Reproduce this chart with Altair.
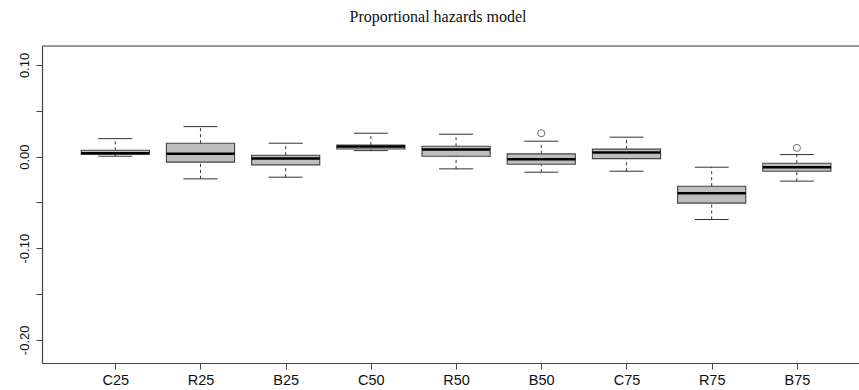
import json
import altair as alt
import pandas as pd

# Five-number summaries per scenario (proportional hazards estimates)
categories = ["C25", "R25", "B25", "C50", "R50", "B50", "C75", "R75", "B75"]
upper_whisker = [0.0196, 0.0327, 0.0146, 0.0255, 0.0244, 0.0168, 0.0212, -0.0116, 0.0022]
q3 = [0.0069, 0.0146, 0.0015, 0.0126, 0.0113, 0.0030, 0.0081, -0.0323, -0.0072]
median = [0.0036, 0.0030, -0.0022, 0.0110, 0.0076, -0.0029, 0.0044, -0.0400, -0.0116]
q1 = [0.0025, -0.0061, -0.0090, 0.0082, 0.0004, -0.0083, -0.0022, -0.0508, -0.0160]
lower_whisker = [0.0004, -0.0243, -0.0225, 0.0065, -0.0134, -0.0170, -0.0160, -0.0687, -0.0268]

outlier_cats = ["B50", "B75"]
outlier_vals = [0.0255, 0.0095]

y_ticks = [-0.20, -0.15, -0.10, -0.05, 0.00, 0.05, 0.10]
title_text = "Proportional hazards model"

boxes = pd.DataFrame({
    "cat": categories,
    "pos": list(range(1, len(categories) + 1)),
    "hi": upper_whisker,
    "q3": q3,
    "med": median,
    "q1": q1,
    "lo": lower_whisker,
})
outliers = pd.DataFrame({
    "cat": outlier_cats,
    "pos": [categories.index(c) + 1 for c in outlier_cats],
    "val": outlier_vals,
})

W, H = 817, 317
x_scale = alt.Scale(domain=[0.14, 0.14 + W / 85.2], nice=False, zero=False)
y_scale = alt.Scale(domain=[-0.2253, 0.1207], nice=False, zero=False)

label_list = json.dumps(categories)
x_axis = alt.Axis(
    values=list(range(1, len(categories) + 1)),
    labelExpr=f"{label_list}[round(datum.value) - 1]",
    title=None, grid=False, domain=True, domainColor="#444", domainWidth=1.2,
    ticks=True, tickColor="#444", tickSize=6, tickWidth=1,
    labelFont="Liberation Sans", labelFontSize=14.5, labelColor="#111",
    labelPadding=4, labelAngle=0,
)
y_axis = alt.Axis(
    values=y_ticks,
    labelExpr="abs(round(datum.value * 100)) % 10 == 0 ? "
              "(datum.value < -0.001 ? '-' : '') + format(abs(datum.value), '.2f') : ''",
    title=None, grid=False, domain=True, domainColor="#444", domainWidth=1.2,
    ticks=True, tickColor="#444", tickSize=6, tickWidth=1,
    labelFont="Liberation Sans", labelFontSize=13, labelColor="#111",
    labelAngle=-90, labelAlign="center", labelBaseline="alphabetic",
    labelPadding=8,
)

base = alt.Chart(boxes).transform_calculate(
    xl="datum.pos - 0.4", xr="datum.pos + 0.4",
    sl="datum.pos - 0.2", sr="datum.pos + 0.2",
)

# dashed whiskers from box to staples
whisk_hi = base.mark_rule(color="#333", strokeWidth=1, strokeDash=[3, 3]).encode(
    x=alt.X("pos:Q", scale=x_scale, axis=x_axis),
    y=alt.Y("q3:Q", scale=y_scale, axis=y_axis),
    y2="hi:Q",
)
whisk_lo = base.mark_rule(color="#333", strokeWidth=1, strokeDash=[3, 3]).encode(
    x=alt.X("pos:Q", scale=x_scale), y=alt.Y("lo:Q", scale=y_scale), y2="q1:Q",
)
staple_hi = base.mark_rule(color="#333", strokeWidth=1).encode(
    x=alt.X("sl:Q", scale=x_scale), x2="sr:Q", y=alt.Y("hi:Q", scale=y_scale),
)
staple_lo = base.mark_rule(color="#333", strokeWidth=1).encode(
    x=alt.X("sl:Q", scale=x_scale), x2="sr:Q", y=alt.Y("lo:Q", scale=y_scale),
)
box = base.mark_rect(fill="#bebebe", stroke="#444", strokeWidth=1.1).encode(
    x=alt.X("xl:Q", scale=x_scale), x2="xr:Q",
    y=alt.Y("q1:Q", scale=y_scale), y2="q3:Q",
)
med = base.mark_rule(color="#000", strokeWidth=2.5).encode(
    x=alt.X("xl:Q", scale=x_scale), x2="xr:Q", y=alt.Y("med:Q", scale=y_scale),
)
outl = alt.Chart(outliers).mark_point(
    shape="circle", filled=False, color="#333", size=50, strokeWidth=1
).encode(
    x=alt.X("pos:Q", scale=x_scale), y=alt.Y("val:Q", scale=y_scale),
)

# top edge of the plot frame
frame_top = alt.Chart(pd.DataFrame({"k": [0]})).mark_rule(color="#444", strokeWidth=1.2).encode(
    x=alt.value(0), x2=alt.value(W), y=alt.value(0),
)

title = alt.Chart(pd.DataFrame({"t": [title_text]})).mark_text(
    font="Liberation Serif", fontSize=16, color="#111", align="center", baseline="alphabetic"
).encode(
    text="t:N", x=alt.value(396), y=alt.value(-24),
)

chart = alt.layer(
    whisk_hi, whisk_lo, staple_hi, staple_lo, box, med, outl, frame_top, title
).properties(
    width=W, height=H,
    autosize=alt.AutoSizeParams(type="none"),
    padding={"left": 42, "top": 46, "right": 0, "bottom": 27},
).configure_view(stroke=None).configure(background="white")

chart.save("out.html", embed_options={"renderer": "svg", "actions": False})
